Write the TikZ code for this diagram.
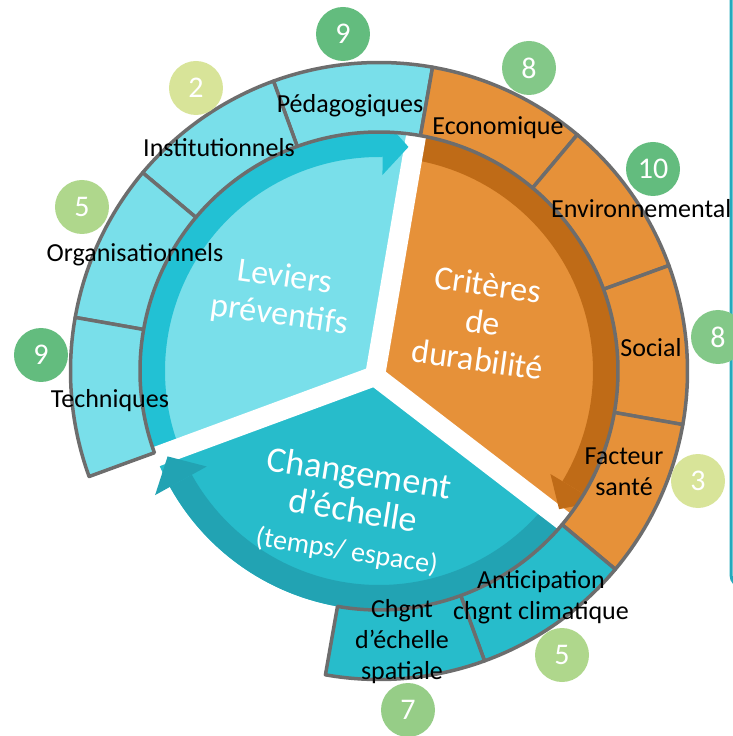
\documentclass[tikz,border=0pt]{standalone}
\usepackage{fontspec}
\setmainfont{Carlito}
\definecolor{levlight}{HTML}{79DFEA}
\definecolor{levband}{HTML}{22C1D4}
\definecolor{crit}{HTML}{E69139}
\definecolor{critband}{HTML}{BF6B17}
\definecolor{chg}{HTML}{27BCCB}
\definecolor{chgband}{HTML}{22A3B3}
\definecolor{rim}{HTML}{6D6D6D}
\definecolor{frame}{HTML}{25A9BC}
\definecolor{gdark}{HTML}{63BC7E}
\definecolor{gmid}{HTML}{83C888}
\definecolor{gsoft}{HTML}{96CD87}
\definecolor{glight}{HTML}{AFD78C}
\definecolor{gpale}{HTML}{D8E499}
\begin{document}
\begin{tikzpicture}[line cap=round,line join=round,x=1pt,y=1pt,
	seg/.style={draw=rim,line width=3.5pt},
	gap/.style={draw=white,line width=20pt,line cap=butt},
	lbl/.style={inner sep=0pt,font=\fontsize{26}{31}\selectfont,align=center},
	big/.style={inner sep=0pt,text=white,align=center,font=\fontsize{34}{38}\selectfont},
	num/.style={circle,inner sep=0pt,minimum size=54pt,text=white,font=\fontsize{30}{30}\selectfont}]
		\useasboundingbox (-379,371) rectangle (354,-365);
		\coordinate (J) at (-4,-5);
		\fill[levlight] (J) -- (81:239) arc[start angle=81,end angle=201,radius=239] -- cycle;
		\fill[crit] (J) -- (-39:239) arc[start angle=-39,end angle=81,radius=239] -- cycle;
		\fill[chg] (J) -- (201:239) arc[start angle=201,end angle=321,radius=239] -- cycle;
		\fill[levband] (89:214) arc[start angle=89,end angle=201,radius=214] -- (201:239) arc[start angle=201,end angle=89,radius=239] -- cycle;
		\fill[critband] (81:214) arc[start angle=81,end angle=-31,radius=214] -- (-31:239) arc[start angle=-31,end angle=81,radius=239] -- cycle;
		\fill[chgband] (-39:214) arc[start angle=-39,end angle=-151,radius=214] -- (-151:239) arc[start angle=-151,end angle=-39,radius=239] -- cycle;
		\draw[gap] (J) -- (81:250);
		\draw[gap] (J) -- (-39:250);
		\draw[gap] (J) -- (201:250);
		\fill[levband] (89:196) -- (89:252) -- (82.5:226) -- cycle;
		\fill[critband] (-31:200) -- (-31:254) -- (-37.5:227) -- cycle;
		\fill[chgband] (-151:197) -- (-151:256) -- (-158:228) -- cycle;
		\draw[frame,line width=3pt] (352,375) -- (352,-204) arc[start angle=180,end angle=270,radius=12] -- (380,-216);
		\draw[seg,fill=levlight] (80:239) arc[start angle=80,end angle=110,radius=239] -- (110:308.5) arc[start angle=110,end angle=80,radius=308.5] -- cycle;
		\draw[seg,fill=levlight] (110:239) arc[start angle=110,end angle=140,radius=239] -- (140:308.5) arc[start angle=140,end angle=110,radius=308.5] -- cycle;
		\draw[seg,fill=levlight] (140:239) arc[start angle=140,end angle=170,radius=239] -- (170:308.5) arc[start angle=170,end angle=140,radius=308.5] -- cycle;
		\draw[seg,fill=levlight] (170:239) arc[start angle=170,end angle=200,radius=239] -- (200:308.5) arc[start angle=200,end angle=170,radius=308.5] -- cycle;
		\node[lbl,anchor=base] (ped) at (-29,258) {Pédagogiques};
		\node[lbl,anchor=base] (inst) at (-160,214) {Institutionnels};
		\node[lbl,anchor=base] (orga) at (-244,109) {Organisationnels};
		\node[lbl,anchor=base] (tech) at (-269,-36) {Techniques};
		\draw[seg,fill=crit] (50:239) arc[start angle=50,end angle=80,radius=239] -- (80:308.5) arc[start angle=80,end angle=50,radius=308.5] -- cycle;
		\draw[seg,fill=crit] (20:239) arc[start angle=20,end angle=50,radius=239] -- (50:308.5) arc[start angle=50,end angle=20,radius=308.5] -- cycle;
		\draw[seg,fill=crit] (-10:239) arc[start angle=-10,end angle=20,radius=239] -- (20:308.5) arc[start angle=20,end angle=-10,radius=308.5] -- cycle;
		\draw[seg,fill=crit] (-40:239) arc[start angle=-40,end angle=-10,radius=239] -- (-10:308.5) arc[start angle=-10,end angle=-40,radius=308.5] -- cycle;
		\node[lbl,anchor=base] (eco) at (119,236) {Economique};
		\node[lbl,anchor=base west] (env) at (172,153) {Environnemental};
		\node[lbl,anchor=base] (soc) at (272,14) {Social};
		\node[lbl] (sante) at (245,-101) {Facteur\\santé};
		\draw[seg,fill=chg] (-70:239) arc[start angle=-70,end angle=-40,radius=239] -- (-40:308.5) arc[start angle=-40,end angle=-70,radius=308.5] -- cycle;
		\draw[seg,fill=chg] (-100:239) arc[start angle=-100,end angle=-70,radius=239] -- (-70:308.5) arc[start angle=-70,end angle=-100,radius=308.5] -- cycle;
		\node[lbl] (antic) at (162,-226) {Anticipation\\chgnt climatique};
		\node[lbl] (spat) at (23,-271) {Chgnt\\d’échelle\\spatiale};
		\node[big,rotate=-8] (lev) at (-97,74) {Leviers\\préventifs};
		\node[big,rotate=-8] (dur) at (104,49) {Critères\\de\\durabilité};
		\node[big,rotate=-9,font=\fontsize{36}{38}\selectfont] (ech) at (-26,-141) {Changement\\d’échelle\\{\fontsize{28}{30}\selectfont(temps/ espace)}};
		\node[num,fill=gdark] (nped) at (-36,337) {9};
		\node[num,fill=gpale] (ninst) at (-183,283) {2};
		\node[num,fill=glight] (norga) at (-297,164) {5};
		\node[num,fill=gdark] (ntech) at (-338,16) {9};
		\node[num,fill=gmid] (neco) at (150,303) {8};
		\node[num,fill=gdark] (nenv) at (274,202) {10};
		\node[num,fill=gmid] (nsoc) at (339,34) {8};
		\node[num,fill=gpale] (nsante) at (319,-110) {3};
		\node[num,fill=glight] (nantic) at (183,-284) {5};
		\node[num,fill=gsoft] (nspat) at (29,-339) {7};
		\end{tikzpicture}
\end{document}
